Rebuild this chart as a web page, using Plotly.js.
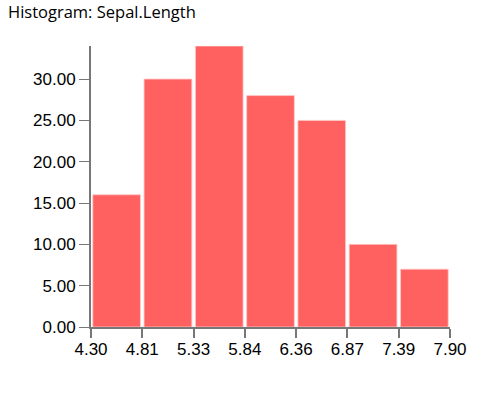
<!DOCTYPE html>
<html>
<head>
<meta charset="utf-8">
<script src="https://cdn.plot.ly/plotly-3.0.1.min.js"></script>
<style>
html,body{margin:0;padding:0;background:#fff;}
#chart{width:499px;height:394px;}
</style>
</head>
<body>
<div id="chart"></div>
<script>
var titleText = "Histogram: Sepal.Length";
var binEdges = [4.30, 4.814, 5.329, 5.843, 6.357, 6.871, 7.386, 7.90];
var tickLabels = ["4.30", "4.81", "5.33", "5.84", "6.36", "6.87", "7.39", "7.90"];
var counts = [16, 30, 34, 28, 25, 10, 7];
var yTickVals = [0, 5, 10, 15, 20, 25, 30];
var yTickLabels = ["0.00", "5.00", "10.00", "15.00", "20.00", "25.00", "30.00"];

var mids = [], widths = [];
for (var i = 0; i < counts.length; i++) {
  mids.push((binEdges[i] + binEdges[i + 1]) / 2);
  widths.push((binEdges[i + 1] - binEdges[i]) * 0.93);
}

var trace = {
  type: "bar",
  x: mids,
  y: counts,
  width: widths,
  marker: { color: "rgb(255,97,97)", line: { color: "rgba(255,200,200,0.8)", width: 1 } },
  hoverinfo: "x+y"
};

var tickFont = { family: "Liberation Sans, Arial, sans-serif", size: 17, color: "#000" };

var layout = {
  width: 499, height: 394,
  margin: { l: 91, r: 49, t: 46, b: 67, pad: 0 },
  paper_bgcolor: "#fff", plot_bgcolor: "#fff",
  showlegend: false,
  title: { text: titleText, x: 0.016, xanchor: "left", y: 0.968, yanchor: "middle", yref: "container",
           font: { family: "Open Sans, Noto Sans, sans-serif", size: 16.5, color: "#000" } },
  xaxis: {
    range: [4.3, 7.9], tickmode: "array", tickvals: binEdges, ticktext: tickLabels,
    showgrid: false, zeroline: false, showline: true, linecolor: "#777", linewidth: 2,
    ticks: "outside", ticklen: 9, tickwidth: 2, tickcolor: "#777", tickfont: tickFont,
    ticklabelstandoff: -3
  },
  yaxis: {
    range: [0, 34], tickmode: "array", tickvals: yTickVals, ticktext: yTickLabels,
    showgrid: false, zeroline: false, showline: true, linecolor: "#777", linewidth: 2,
    ticks: "outside", ticklen: 10, tickwidth: 1, tickcolor: "#777", tickfont: tickFont
  }
};

Plotly.newPlot("chart", [trace], layout, { displayModeBar: false, staticPlot: true });
</script>
</body>
</html>
